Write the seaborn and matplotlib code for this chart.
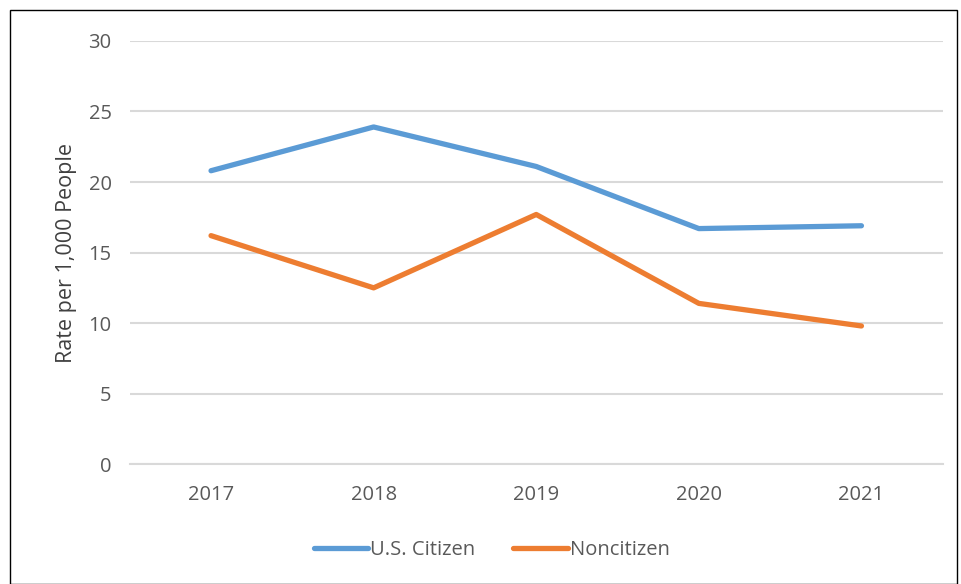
import pandas as pd
import matplotlib.pyplot as plt
import seaborn as sns
from matplotlib.patches import Rectangle

# ── DATA ─────────────────────────────────────────────
years = ["2017", "2018", "2019", "2020", "2021"]
us_citizen = [20.8, 23.9, 21.1, 16.7, 16.9]
noncitizen = [16.2, 12.5, 17.7, 11.4, 9.8]

df = pd.DataFrame({
    "Year": years * 2,
    "Rate": us_citizen + noncitizen,
    "Group": ["U.S. Citizen"] * len(years) + ["Noncitizen"] * len(years),
})

# ── PLOT ─────────────────────────────────────────────
sns.set_style("white")
plt.rcParams["font.family"] = ["Open Sans", "DejaVu Sans"]

fig = plt.figure(figsize=(9.61, 5.84), dpi=100)
ax = fig.add_axes([0.135, 0.205, 0.846, 0.725])

colors = {"U.S. Citizen": "#5B9BD5", "Noncitizen": "#ED7D31"}
sns.lineplot(data=df, x="Year", y="Rate", hue="Group", palette=colors,
             linewidth=3.8, solid_capstyle="round", sort=False, ax=ax)

ax.set_ylim(0, 30)
ax.set_yticks(range(0, 31, 5))
ax.set_xlim(-0.5, 4.5)
ax.yaxis.grid(True, color="#D9D9D9", linewidth=1.5)
ax.set_axisbelow(True)
for s in ["top", "right", "left"]:
    ax.spines[s].set_visible(False)
ax.spines["bottom"].set_color("#D9D9D9")
ax.spines["bottom"].set_linewidth(1.5)
ax.tick_params(axis="both", length=0, labelsize=14.5, labelcolor="#595959")
ax.tick_params(axis="y", pad=13)
ax.tick_params(axis="x", pad=15)
ax.set_xlabel("")
ax.set_ylabel("Rate per 1,000 People", fontsize=15.5, color="#404040", labelpad=8)

leg = ax.legend(loc="upper center", bbox_to_anchor=(0.445, -0.135), ncol=2,
                frameon=False, fontsize=14.5, handlelength=2.7,
                handletextpad=0.1, columnspacing=1.9)
for t in leg.get_texts():
    t.set_color("#595959")
for h in leg.get_lines():
    h.set_linewidth(3.8)
    h.set_solid_capstyle("round")

# outer border
fig.patches.append(Rectangle((10 / 961, 0.0), 947 / 961, 1 - 10 / 584,
                             transform=fig.transFigure, fill=False,
                             edgecolor="black", linewidth=1.0))

plt.savefig("out.png", dpi=100)
